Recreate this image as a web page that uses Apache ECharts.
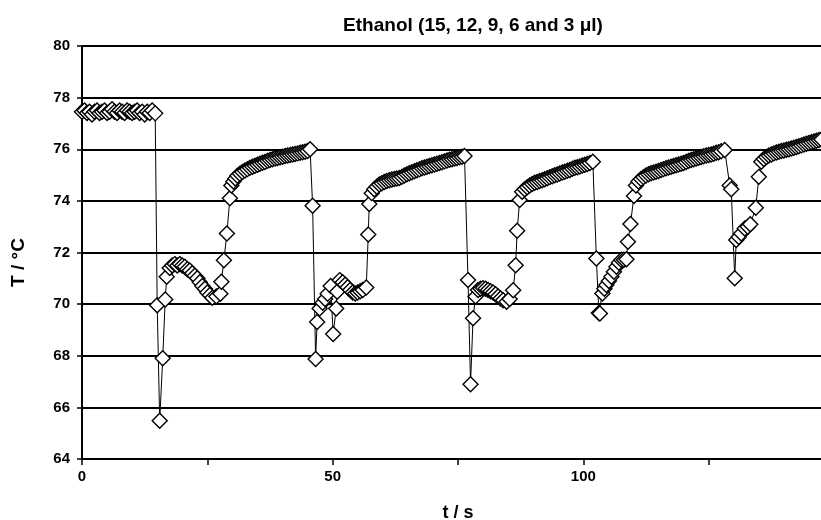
<!DOCTYPE html>
<html>
<head>
<meta charset="utf-8">
<script src="https://cdn.jsdelivr.net/npm/echarts@6/dist/echarts.min.js"></script>
<style>
    html, body { margin: 0; padding: 0; background: #fff; }
    #chart { width: 821px; height: 520px; }
</style>
</head>
<body>
<div id="chart"></div>
<script>
    // [t (s), T (°C)], one array per stage
    var baseline = [
        [0, 77.45], [0.5, 77.5], [1, 77.4], [1.5, 77.45], [2, 77.35], [2.5, 77.45], [3, 77.5], [3.5, 77.4],
        [4, 77.45], [4.5, 77.5], [5, 77.4], [5.5, 77.45], [6, 77.55], [6.5, 77.45], [7, 77.4], [7.5, 77.5],
        [8, 77.45], [8.5, 77.4], [9, 77.5], [9.5, 77.45], [10, 77.4], [10.5, 77.45], [11, 77.5], [11.5, 77.4],
        [12, 77.45], [12.5, 77.35], [13, 77.45], [13.5, 77.4], [14, 77.5], [14.6, 77.39]
    ]
    var pulse15 = [
        [15.0, 69.96], [15.5, 65.48], [16.1, 67.9], [16.6, 70.18], [16.9, 71.06], [17.5, 71.4], [18, 71.5],
        [18.5, 71.55], [19, 71.5], [19.5, 71.55], [20, 71.5], [20.5, 71.45], [21, 71.35], [21.5, 71.3],
        [22, 71.2], [22.5, 71.1], [23, 71.0], [23.5, 70.85], [24, 70.7], [24.5, 70.6], [25, 70.45],
        [25.5, 70.35], [26, 70.25], [26.8, 70.3], [27.6, 70.4], [27.8, 70.87], [28.3, 71.7], [28.9, 72.74],
        [29.5, 74.1], [29.8, 74.6], [30.2, 74.75], [30.6, 74.87], [31, 74.97], [31.5, 75.05], [32, 75.12],
        [32.5, 75.18], [33, 75.23], [33.5, 75.28], [34, 75.32], [34.5, 75.36], [35, 75.4], [35.5, 75.44],
        [36, 75.48], [36.5, 75.51], [37, 75.55], [37.5, 75.58], [38, 75.61], [38.5, 75.64], [39, 75.66],
        [39.5, 75.69], [40, 75.71], [40.5, 75.74], [41, 75.76], [41.5, 75.78], [42, 75.8], [42.5, 75.82],
        [43, 75.84], [43.5, 75.86], [44, 75.88], [44.5, 75.9], [45, 75.93], [45.5, 76.0]
    ]
    var pulse12 = [
        [46.0, 73.81], [46.6, 67.87], [46.9, 69.31], [47.4, 69.83], [48, 70.05], [48.5, 70.2], [49, 70.4],
        [49.6, 70.7], [50.1, 68.84], [50.7, 69.83], [50.9, 70.48], [51.4, 70.93], [52, 70.85], [52.5, 70.75],
        [53, 70.65], [53.5, 70.55], [54, 70.45], [54.5, 70.41], [55, 70.45], [55.5, 70.5], [56, 70.55],
        [56.7, 70.64], [57.1, 72.7], [57.3, 73.88], [57.8, 74.3], [58.3, 74.45], [58.8, 74.55], [59.3, 74.63],
        [59.8, 74.68], [60.3, 74.73], [60.8, 74.77], [61.3, 74.8], [61.8, 74.83], [62.3, 74.85], [62.8, 74.87],
        [63.3, 74.89], [63.8, 74.93], [64.3, 74.98], [64.8, 75.03], [65.3, 75.07], [65.8, 75.11], [66.3, 75.15],
        [66.8, 75.19], [67.3, 75.22], [67.8, 75.26], [68.3, 75.29], [68.8, 75.32], [69.3, 75.35], [69.8, 75.38],
        [70.3, 75.41], [70.8, 75.44], [71.3, 75.47], [71.8, 75.5], [72.3, 75.53], [72.8, 75.56], [73.3, 75.59],
        [73.8, 75.61], [74.3, 75.64], [74.8, 75.66], [75.3, 75.69], [75.8, 75.71], [76.3, 75.74]
    ]
    var pulse9 = [
        [77.0, 70.93], [77.5, 66.9], [78.0, 69.45], [78.5, 70.3], [79, 70.55], [79.5, 70.6], [80, 70.62],
        [80.5, 70.6], [81, 70.55], [81.5, 70.5], [82, 70.45], [82.5, 70.38], [83, 70.3], [83.5, 70.22],
        [84, 70.15], [84.7, 70.09], [85.3, 70.2], [86.0, 70.54], [86.5, 71.51], [86.8, 72.84], [87.3, 74.03],
        [87.8, 74.35], [88.3, 74.45], [88.8, 74.53], [89.3, 74.6], [89.8, 74.65], [90.3, 74.7], [90.8, 74.73],
        [91.3, 74.77], [91.8, 74.8], [92.3, 74.84], [92.8, 74.88], [93.3, 74.92], [93.8, 74.95], [94.3, 74.99],
        [94.8, 75.02], [95.3, 75.06], [95.8, 75.1], [96.3, 75.13], [96.8, 75.17], [97.3, 75.2], [97.8, 75.24],
        [98.3, 75.28], [98.8, 75.3], [99.3, 75.33], [99.8, 75.37], [100.3, 75.4], [100.8, 75.43], [101.3, 75.47],
        [101.9, 75.52]
    ]
    var pulse6 = [
        [102.6, 71.77], [103.1, 69.66], [103.3, 69.64], [103.8, 70.41], [104.2, 70.6], [104.6, 70.74],
        [105.1, 70.9], [105.6, 71.06], [106.1, 71.25], [106.6, 71.45], [107.1, 71.6], [107.6, 71.71],
        [108.1, 71.72], [108.6, 71.74], [108.9, 72.42], [109.4, 73.1], [110.1, 74.19], [110.5, 74.6],
        [111, 74.75], [111.5, 74.85], [112, 74.92], [112.5, 74.98], [113, 75.03], [113.5, 75.07], [114, 75.1],
        [114.5, 75.13], [115, 75.16], [115.5, 75.2], [116, 75.23], [116.5, 75.26], [117, 75.29], [117.5, 75.32],
        [118, 75.35], [118.5, 75.38], [119, 75.41], [119.5, 75.44], [120, 75.47], [120.5, 75.51], [121, 75.55],
        [121.5, 75.58], [122, 75.61], [122.5, 75.64], [123, 75.67], [123.5, 75.7], [124, 75.73], [124.5, 75.76],
        [125, 75.78], [125.5, 75.8], [126, 75.83], [126.5, 75.86], [127, 75.88], [127.5, 75.92], [128.2, 75.97]
    ]
    var pulse3 = [
        [129.2, 74.6], [129.5, 74.45], [130.2, 71.0], [130.5, 72.48], [131.0, 72.6], [131.5, 72.74],
        [132.2, 72.93], [132.8, 73.0], [133.3, 73.09], [134.4, 73.73], [135.0, 74.93], [135.5, 75.52],
        [136, 75.62], [136.5, 75.7], [137, 75.76], [137.5, 75.8], [138, 75.84], [138.5, 75.87], [139, 75.9],
        [139.5, 75.93], [140, 75.95], [140.5, 75.98], [141, 76.0], [141.5, 76.03], [142, 76.06], [142.5, 76.09],
        [143, 76.12], [143.5, 76.15], [144, 76.18], [144.5, 76.21], [145, 76.24], [145.5, 76.27], [146, 76.3],
        [146.5, 76.33], [147, 76.36], [147.5, 76.38]
    ]

    var xTicks = [0, 50, 100]
    var points = baseline.concat(pulse15, pulse12, pulse9, pulse6, pulse3)

    var font = 'Liberation Sans, Arial, sans-serif'
    var chart = echarts.init(document.getElementById('chart'))
    chart.setOption({
        animation: false,
        backgroundColor: '#fff',
        title: {
            text: 'Ethanol (15, 12, 9, 6 and 3 μl)',
            left: 468,
            top: 11,
            textAlign: 'center',
            textStyle: {fontFamily: font, fontSize: 19, fontWeight: 'bold', color: '#000'}
        },
        grid: {left: 82, width: 752, top: 46, bottom: 61, outerBoundsMode: 'none'},
        xAxis: {
            type: 'value',
            min: 0,
            max: 150,
            interval: 25,
            name: 't / s',
            nameLocation: 'middle',
            nameGap: 45,
            nameTextStyle: {fontFamily: font, fontSize: 18, fontWeight: 'bold', color: '#000'},
            axisLine: {onZero: false, lineStyle: {color: '#000', width: 2}},
            axisTick: {show: true, length: 6, lineStyle: {color: '#000', width: 1.5}},
            axisLabel: {
                fontFamily: font, fontSize: 15, fontWeight: 'bold', color: '#000', margin: 10,
                formatter: function (v) { return xTicks.indexOf(v) >= 0 ? String(v) : '' }
            },
            splitLine: {show: false}
        },
        yAxis: {
            type: 'value',
            min: 64,
            max: 80,
            interval: 2,
            name: 'T / °C',
            nameLocation: 'middle',
            nameGap: 54,
            nameTextStyle: {fontFamily: font, fontSize: 19, fontWeight: 'bold', color: '#000', padding: [0, 20, 0, 0]},
            axisLine: {show: true, lineStyle: {color: '#000', width: 2}},
            axisTick: {show: true, length: 5, lineStyle: {color: '#000', width: 1.5}},
            axisLabel: {fontFamily: font, fontSize: 15, fontWeight: 'bold', color: '#000', margin: 12},
            splitLine: {show: true, lineStyle: {color: '#000', width: 2}}
        },
        series: [{
            type: 'line',
            data: points,
            symbol: 'diamond',
            symbolSize: 15,
            showAllSymbol: true,
            clip: false,
            lineStyle: {color: '#000', width: 1},
            itemStyle: {color: '#fff', borderColor: '#000', borderWidth: 1.4}
        }]
    })
</script>
</body>
</html>
